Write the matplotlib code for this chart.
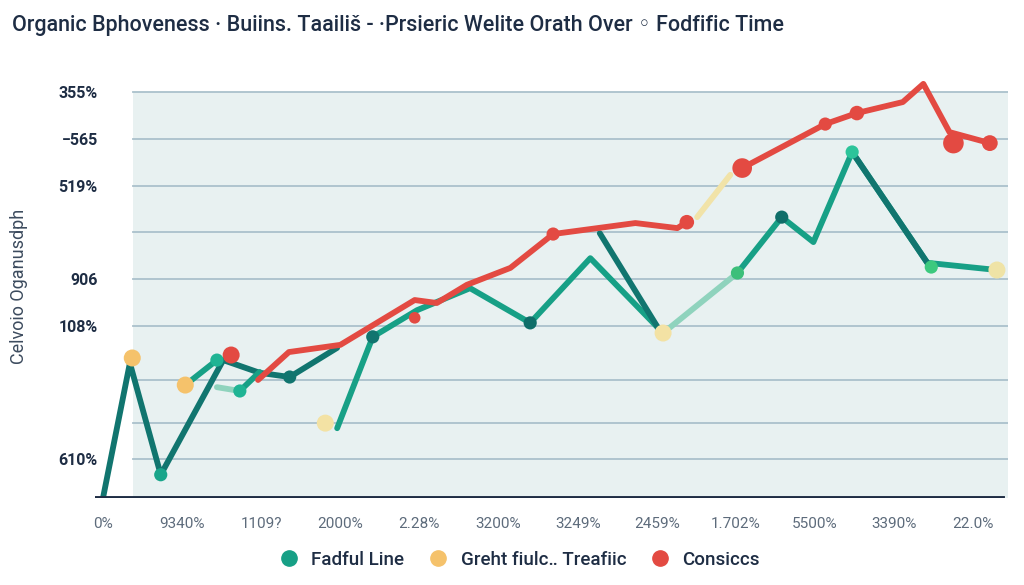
import matplotlib
matplotlib.use("Agg")
import matplotlib.pyplot as plt
from matplotlib.lines import Line2D

plt.rcParams['font.family'] = ['Roboto', 'DejaVu Sans']

# ---- data -------------------------------------------------------------
x_labels = ["0%", "9340%", "1109?", "2000%", "2.28%", "3200%", "3249%",
            "2459%", "1.702%", "5500%", "3390%", "22.0%"]
y_ticks = [96.0, 84.9, 73.8, 62.9, 51.8, 40.7, 27.9, 17.7, 9.2]
y_tick_labels = ["355%", "\u2212565", "519%", "", "906", "108%", "", "", "610%"]

# teal "Fadful Line" segments (x = category position, y = value)
teal_a_x = [0.0, 0.34, 0.73, 1.52, 1.98, 2.36, 2.96]
teal_a_y = [0.0, 31.9, 5.5, 32.6, 29.6, 28.6, 35.5]
teal_b_x = [1.04, 1.44]
teal_b_y = [26.7, 32.6]
teal_c_x = [1.73, 1.98]
teal_c_y = [25.3, 29.8]
teal_d_x = [2.96, 3.41, 3.97, 4.64, 5.40, 6.16, 7.08]
teal_d_y = [16.5, 38.1, 44.4, 49.6, 41.4, 56.7, 39.0]
teal_e_x = [6.28, 7.04]
teal_e_y = [62.6, 39.5]
teal_f_x = [8.02, 8.58, 8.98, 9.47, 10.42, 11.30]
teal_f_y = [53.2, 66.4, 60.5, 81.8, 55.6, 53.9]
pale_teal_x = [[1.44, 1.73], [7.08, 8.02]]
pale_teal_y = [[26.2, 25.3], [39.0, 53.2]]

# red "Consiccs" segments
red_a_x = [1.96, 2.35, 3.0, 3.94, 4.22, 4.60, 5.15, 5.69, 6.73, 7.26, 7.38]
red_a_y = [27.9, 34.5, 36.2, 46.8, 46.1, 50.4, 54.4, 62.4, 65.0, 63.8, 65.2]
red_b_x = [8.08, 9.13, 9.53, 10.11, 10.37, 10.70, 11.21]
red_b_y = [78.0, 88.4, 91.0, 93.6, 97.9, 86.5, 83.9]
pale_yellow_x = [7.51, 7.93]
pale_yellow_y = [66.4, 76.4]

# markers
red_dot_x = [1.62, 3.94, 5.69, 7.38, 8.08, 9.13, 9.53, 10.75, 11.21]
red_dot_y = [33.8, 42.6, 62.4, 65.2, 78.0, 88.4, 91.0, 83.9, 83.9]
red_dot_s = [150, 70, 90, 110, 200, 90, 110, 220, 130]
yellow_dot_x = [0.37, 1.04, 2.81, 7.08, 11.30]
yellow_dot_y = [33.1, 26.7, 17.7, 39.0, 53.9]
yellow_dot_c = ["#f5c26b", "#f5c26b", "#f3e2a4", "#f3e2a4", "#efe3a6"]
teal_dot_x = [0.73, 1.44, 1.73, 2.36, 3.41, 5.40, 8.02, 8.58, 9.47, 10.47]
teal_dot_y = [5.5, 32.6, 25.3, 28.6, 38.1, 41.4, 53.2, 66.4, 81.8, 54.6]
teal_dot_c = ["#19a58a", "#1fb494", "#1fb494", "#11756f", "#11756f",
              "#0f6e69", "#3cbf7a", "#0f6e69", "#2cc49a", "#3cc97e"]

legend_labels = ["Fadful Line", "Greht fiulc\u2025 Treafiic", "Consiccs"]

# ---- colours ----------------------------------------------------------
TEAL = "#17a086"
DARK_TEAL = "#11756f"
PALE_TEAL = "#8fd3bd"
RED = "#e34a42"
PALE_YEL = "#f1e3a8"
NAVY = "#1e2d44"

W, H = 1024, 585
fig = plt.figure(figsize=(W / 100, H / 100), dpi=100)
fig.patch.set_facecolor("white")
ax = fig.add_axes([95 / W, 1 - 498 / H, 913 / W, 423 / H])
ax.set_xlim(-0.101, 11.44)
ax.set_ylim(0, 100)
ax.patch.set_visible(False)
for s in ax.spines.values():
    s.set_visible(False)

# shaded panel and gridlines
ax.add_patch(plt.Rectangle((0.38, 0), 11.44 - 0.38, 96.0, facecolor="#e8f1f1",
                           edgecolor="none", zorder=0))
xmin_frac = (0.38 + 0.101) / (11.44 + 0.101)
for yv in y_ticks:
    ax.axhline(yv, xmin=xmin_frac, xmax=1.0, color="#aac1cc", lw=1.3, zorder=1)
ax.axhline(0, xmin=0, xmax=0.995, color=NAVY, lw=2.8, zorder=5)

lw = 4.2
kw = dict(solid_capstyle="round", solid_joinstyle="round", zorder=3)
ax.plot(teal_a_x, teal_a_y, color=DARK_TEAL, lw=lw, **kw)
ax.plot(teal_b_x, teal_b_y, color=TEAL, lw=lw, **kw)
ax.plot(teal_c_x, teal_c_y, color=TEAL, lw=lw, **kw)
ax.plot(teal_d_x, teal_d_y, color=TEAL, lw=lw, **kw)
ax.plot(teal_e_x, teal_e_y, color=DARK_TEAL, lw=lw, **kw)
ax.plot(teal_f_x, teal_f_y, color=TEAL, lw=lw, **kw)
ax.plot(teal_f_x[3:5], teal_f_y[3:5], color=DARK_TEAL, lw=lw, **kw)
for px, py in zip(pale_teal_x, pale_teal_y):
    ax.plot(px, py, color=PALE_TEAL, lw=lw, **kw)
ax.plot(red_a_x, red_a_y, color=RED, lw=lw, **kw)
ax.plot(red_b_x, red_b_y, color=RED, lw=lw, **kw)
ax.plot(pale_yellow_x, pale_yellow_y, color=PALE_YEL, lw=lw, **kw)

ax.scatter(red_dot_x, red_dot_y, s=red_dot_s, color=RED, zorder=4, lw=0)
ax.scatter(yellow_dot_x, yellow_dot_y, s=150, c=yellow_dot_c, zorder=4, lw=0)
ax.scatter(teal_dot_x, teal_dot_y, s=90, c=teal_dot_c, zorder=4, lw=0)

ax.set_xticks(range(len(x_labels)))
ax.set_xticklabels(x_labels, fontsize=11, color="#5d6b7b")
ax.set_yticks(y_ticks)
ax.set_yticklabels(y_tick_labels, fontsize=11.5, color=NAVY, fontweight="bold")
ax.tick_params(axis="x", length=0, pad=14)
ax.tick_params(axis="y", length=0, pad=-2)

ax.set_ylabel("Celvoio Oganusdph", fontsize=13, color="#3c4b5e", labelpad=22)

fig.text(12 / W, 1 - 25 / H,
         "Organic Bphoveness \u00b7 Buiins. Taaili\u0161 - \u00b7Prsieric Welite Orath Over \u25e6 Fodfific Time",
         fontsize=15.5, fontweight="medium", color=NAVY, va="center", ha="left")

handles = [Line2D([], [], marker="o", ls="", ms=11, color=c)
           for c in ["#17a086", "#f5c26b", RED]]
fig.legend(handles, legend_labels, loc="center", bbox_to_anchor=(515 / W, 1 - 560 / H),
           ncol=3, frameon=False, handletextpad=0.2,
           columnspacing=0.8, labelcolor=NAVY, prop={"weight": "medium", "size": 13.5})

fig.savefig("out.png", dpi=100)
